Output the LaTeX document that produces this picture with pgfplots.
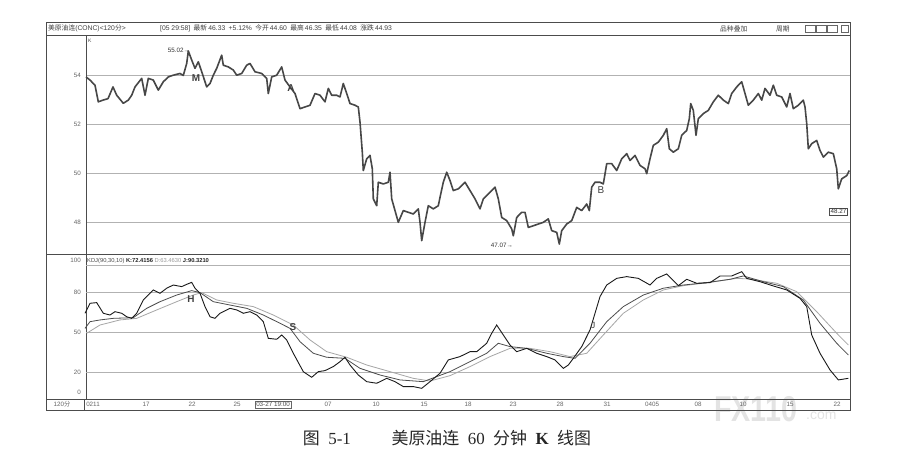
\documentclass[border=0pt]{standalone}
\usepackage{pgfplots}
\pgfplotsset{compat=1.18}
\usepackage{fontspec}
\setmainfont{Liberation Sans}
\newfontfamily\cjk{Noto Sans CJK SC}
\newfontfamily\serif{Liberation Serif}
\newcommand{\sm}{\fontsize{6.3}{6.3}\selectfont}
\newcommand{\tb}{\fontsize{6.8}{6.8}\selectfont}

\pgfplotstableread{
x p
86 53.94
90 53.81
95 53.60
98.3 52.92
103 52.99
108 53.05
113 53.53
116.7 53.19
123.3 52.86
128.3 52.99
131.7 53.19
135 53.53
141.7 53.88
145 53.19
148.3 53.88
153.3 53.81
158.3 53.40
163.3 53.74
168.3 53.94
173.3 54.01
180 54.08
183.3 54.00
186.7 54.49
188.3 55.00
191.7 54.63
195 54.29
198.3 54.56
201.7 54.15
206.7 53.53
210 53.67
213.3 54.01
216.7 54.29
221.7 54.83
223.3 54.42
228.3 54.35
233.3 54.22
236.7 54.01
241.7 54.08
246.7 54.42
250 54.49
255 54.15
261.7 54.08
266.7 53.88
268.3 53.26
271.7 53.94
276.7 54.01
281.7 54.35
285 53.81
290 53.53
295 53.26
300 52.64
305 52.71
310 52.78
315 53.26
320 53.19
325 52.92
328.3 53.47
331.7 53.19
336.7 53.19
340 53.12
343.3 53.67
346.7 53.26
350 52.85
355 52.78
358.3 52.71
360 52.09
362.3 50.86
363.3 50.11
366.7 50.59
370 50.73
372.3 50.18
373.3 48.95
376.7 48.67
378.3 49.63
383.3 49.56
388.3 49.63
390 50.04
391.7 48.95
395 48.47
398.3 47.99
403.3 48.47
408.3 48.40
413.3 48.33
418.3 48.54
420 47.99
421.7 47.24
425 47.99
428.3 48.67
433.3 48.54
438.3 48.67
440 49.01
443.3 49.63
446.7 50.04
450 49.70
453.3 49.29
458.3 49.36
465 49.63
470 49.29
475 48.95
480 48.54
483.3 48.95
488.3 49.15
495 49.43
498.3 48.95
501.7 48.19
506.7 48.06
511.7 47.72
513.3 47.44
516.7 48.19
521.7 48.40
525 48.40
528.3 47.78
533.3 47.85
538.3 47.92
543.3 47.99
548.3 48.13
551.7 47.65
556.7 47.58
559.3 47.10
561.7 47.65
566.7 47.92
571.7 48.06
576.7 48.60
581.7 48.47
586.7 48.74
589.3 48.47
591.7 49.43
595 49.63
600 49.63
603.3 49.56
606.7 50.39
611.7 50.39
616.7 50.11
621.7 50.59
626.7 50.80
630 50.52
635 50.73
640 50.32
645 50.18
646.7 49.98
650 50.59
653.3 51.14
658.3 51.27
663.3 51.55
666.7 51.82
669.3 51.00
673.3 50.86
678.3 51.00
681.7 51.55
686.7 51.75
689.3 52.23
690.7 52.85
693.3 52.57
696 51.55
698.3 52.23
703.3 52.44
708.3 52.57
713.3 52.92
718.3 53.19
723.3 52.99
728.3 52.85
731.7 53.26
736.7 53.53
741.7 53.74
745 53.26
748.3 52.78
753.3 52.99
758.3 53.26
761.7 52.99
765 53.47
770 53.19
773.3 53.60
776.7 53.19
781.7 53.12
786.7 52.71
790 53.26
793.3 52.64
798.3 52.78
803.3 52.99
805 52.71
806.7 52.03
808.3 51.00
811.7 51.21
816.7 51.34
820 50.93
823.3 50.66
828.3 50.86
833.3 50.80
836.7 50.18
838.3 49.36
841.7 49.77
846.7 49.90
849.3 50.11
}\price

\pgfplotstableread{
x j
85 64.3
90 71.8
96.7 72.3
103.3 64.3
110 63.0
115 65.5
121.7 64.3
126.7 61.7
131.7 60.5
136.7 64.3
143.3 74.3
153.3 81.8
160 79.3
166.7 83.1
173.3 85.5
181.7 84.3
186.7 86.0
191.7 87.5
195 83.1
200 79.3
205 69.3
210 61.7
215 60.5
220 64.3
230 68.0
236.7 66.8
243.3 64.3
250 65.5
256.7 63.0
263.3 58.0
268.3 45.5
276.7 44.8
281.7 48.0
286.7 44.3
293.3 34.3
303.3 20.5
311.7 16.3
318.3 20.5
325 21.3
333.3 24.3
340 28.0
345 31.3
350 25.5
358.3 18.0
366.7 13.0
376.7 11.8
386.7 15.5
395 13.0
403.3 9.3
413.3 9.3
421.7 8.0
430 13.0
440 19.3
448.3 29.3
460 31.8
470 35.5
476.7 35.5
486.7 41.8
491.7 49.3
496.7 55.5
503.3 48.0
510 40.5
516.7 35.5
526.7 38.0
536.7 34.3
546.7 31.8
555 29.3
563.3 23.0
568.3 25.5
573.3 30.5
581.7 39.3
590 51.8
595 64.3
600 76.8
606.7 85.5
616.7 90.5
626.7 91.8
638.3 90.5
650 85.5
656.7 90.5
666.7 93.8
678.3 85.0
686.7 89.8
696.7 86.8
710 87.3
720 92.3
731.7 92.3
741.7 95.5
746.7 90.5
760 88.0
773.3 84.8
786.7 81.8
800 75.5
806.7 69.3
811.7 48.0
820 34.3
830 21.8
838.3 14.3
848.3 15.5
}\jline

\pgfplotstableread{
x k
85 53.0
90 58.0
100 59.3
113.3 60.5
133.3 61.0
146.7 68.0
160 73.0
176.7 78.0
191.7 81.3
200 79.8
213.3 73.0
230 70.5
246.7 68.0
263.3 63.0
280 56.8
290 53.0
300 43.0
313.3 34.3
326.7 31.3
345 30.5
360 23.0
380 18.0
400 14.3
423.3 13.0
436.7 16.8
450 20.5
470 28.0
486.7 34.3
498.3 41.8
510 39.3
526.7 38.0
546.7 34.3
563.3 31.8
575 30.5
590 41.8
606.7 58.0
623.3 69.3
643.3 78.0
663.3 83.1
683.3 85.5
706.7 87.3
730 89.8
743.3 92.3
763.3 88.0
783.3 84.3
803.3 74.3
820 56.8
836.7 41.8
848.3 33.0
}\kline

\pgfplotstableread{
x d
86.7 49.3
100 55.5
120 59.3
136.7 60.5
156.7 66.8
176.7 73.0
193.3 78.0
201.7 79.8
216.7 74.3
233.3 71.8
253.3 69.3
273.3 63.0
293.3 55.5
310 44.3
326.7 35.5
346.7 31.3
366.7 25.5
390 20.5
413.3 15.5
430 13.5
450 17.5
470 24.3
490 31.8
510 38.0
530 38.0
550 35.5
570 31.8
586.7 34.3
603.3 48.0
623.3 64.3
643.3 74.3
663.3 81.8
683.3 85.0
710 87.5
736.7 90.5
750 90.0
776.7 86.8
796.7 80.5
816.7 65.5
836.7 49.3
848.3 40.5
}\dline

\begin{document}
\begin{tikzpicture}[x=1bp,y=1bp]
\useasboundingbox (0,0) rectangle (905,469);
\fill[white] (0,0) rectangle (905,469);

% watermark (drawn first, faint)
\node[anchor=west, inner sep=0, text=black!11, font=\bfseries\fontsize{36}{36}\selectfont, xscale=0.8] at (714,60) {FX110};
\node[anchor=west, inner sep=0, text=black!11, font=\fontsize{14}{14}\selectfont] at (806,53) {.com};

% frame of the trading window
\draw[black!70, line width=0.7bp] (46,59) rectangle (850,447);
\draw[black!70, line width=0.6bp] (46,434) -- (850,434);
\draw[black!70, line width=0.6bp] (46,214.5) -- (850,214.5);
\draw[black!70, line width=0.6bp] (46,70) -- (850,70);
\draw[black!70, line width=0.6bp] (84,59) -- (84,70);

% title bar
\node[anchor=west, inner sep=0, font=\tb, text=black!75] at (48,440.5) {{\cjk 美原油连}(CONC)<120{\cjk 分}>};
\node[anchor=west, inner sep=0, font=\tb, text=black!75] at (160,440.5)
  {[05 29:58]\enspace{\cjk 最新}\,46.33\enspace +5.12\%\enspace {\cjk 今开}\,44.60\enspace {\cjk 最高}\,46.35\enspace {\cjk 最低}\,44.08\enspace {\cjk 涨跌}\,44.93};
\node[anchor=west, inner sep=0, font=\tb, text=black!75] at (720,440.5) {\cjk 品种叠加};
\node[anchor=west, inner sep=0, font=\tb, text=black!75] at (776,440.5) {\cjk 周期};
\foreach \bx in {805,816,827}{\draw[black!60, line width=0.4bp] (\bx,437) rectangle (\bx+10,444);}
\draw[black!60, line width=0.4bp] (841,437) rectangle (848,444);

% upper panel: price
\begin{axis}[
  at={(86bp,214.5bp)}, anchor=south west,
  width=764bp, height=219.5bp, scale only axis,
  xmin=86, xmax=850, ymin=46.674, ymax=55.655,
  xtick=\empty,
  ytick={48,50,52,54},
  ymajorgrids, grid style={black!30, line width=0.5bp},
  axis line style={black!70, line width=0.6bp},
  tick style={draw=none},
  /pgf/number format/assume math mode=true,
  yticklabel style={font=\sm, text=black!60, anchor=east, inner sep=0, xshift=-5bp},
  clip=false,
]
\addplot[black!72, line width=1.6bp, line join=round] table[x=x, y=p] {\price};
\node[anchor=east, font=\sm, text=black!80, inner sep=0] at (axis cs:190,55.04) {55.02→};
\node[anchor=east, font=\sm, text=black!80, inner sep=0] at (axis cs:513,47.03) {47.07→};
\node[font=\bfseries\fontsize{10}{10}\selectfont, text=black!75] at (axis cs:196,53.89) {M};
\node[font=\bfseries\fontsize{10}{10}\selectfont, text=black!75] at (axis cs:291,53.48) {A};
\node[font=\fontsize{10}{10}\selectfont, text=black!75] at (axis cs:601,49.29) {B};
\node[anchor=west, font=\fontsize{5}{5}\selectfont, text=black!70, inner sep=0] at (axis cs:88,55.41) {K};
\node[draw=black!70, line width=0.5bp, font=\sm, text=black!80, inner sep=1bp] at (axis cs:838.5,48.43) {48.27};
\end{axis}

% lower panel: KDJ
\begin{axis}[
  at={(86bp,70bp)}, anchor=south west,
  width=764bp, height=144.5bp, scale only axis,
  xmin=86, xmax=850, ymin=0, ymax=108.4,
  xtick={93,146,192,237,328,376,424,468,513,560,607,652,698,743,790,837},
  xticklabels={0211,17,22,25,07,10,15,18,23,28,31,0405,08,10,15,22},
  ytick={5.2,20,50,80,104.2},
  yticklabels={0,20,50,80,100},
  extra y ticks={20,50,80,100},
  extra y tick labels={},
  extra y tick style={grid=major},
  grid style={black!30, line width=0.5bp},
  axis line style={black!70, line width=0.6bp},
  tick style={draw=none},
  /pgf/number format/assume math mode=true,
  yticklabel style={font=\sm, text=black!60, anchor=east, inner sep=0, xshift=-5bp},
  xticklabel style={font=\sm, text=black!60, anchor=center, inner sep=0, yshift=-5.5bp},
  clip=false,
]
\addplot[black!35, line width=0.8bp] table[x=x, y=d] {\dline};
\addplot[black!70, line width=0.8bp] table[x=x, y=k] {\kline};
\addplot[black!90, line width=0.9bp] table[x=x, y=j] {\jline};
\node[anchor=west, font=\fontsize{5.8}{5.8}\selectfont, inner sep=0] at (axis cs:87,103.5)
  {\textcolor{black!70}{KDJ(90,30,10)} \textcolor{black!85}{\bfseries K:72.4156} \textcolor{black!40}{D:63.4630} \textcolor{black!85}{\bfseries J:90.3210}};
\node[font=\bfseries\fontsize{10}{10}\selectfont, text=black!75] at (axis cs:191,75) {H};
\node[font=\bfseries\fontsize{10}{10}\selectfont, text=black!75] at (axis cs:293,54) {S};
\node[font=\fontsize{9}{9}\selectfont, text=black!75] at (axis cs:593,55.5) {J};
\end{axis}

% date box and period label in the time row
\node[draw=black!60, line width=0.4bp, font=\sm, text=black!70, inner sep=1bp] at (273,64.5) {03-27 19:00};
\node[font=\sm, text=black!60, inner sep=0] at (62,64.5) {120{\cjk 分}};

% caption
\node[font=\fontsize{17}{17}\selectfont, text=black!85, inner sep=0] at (447,31)
  {{\cjk 图}\hspace{0.5em}{\serif 5-1}\hspace{2.4em}{\cjk 美原油连}\hspace{0.5em}{\serif 60}\hspace{0.5em}{\cjk 分钟}\hspace{0.5em}{\serif\bfseries K}\hspace{0.5em}{\cjk 线图}};
\end{tikzpicture}
\end{document}
